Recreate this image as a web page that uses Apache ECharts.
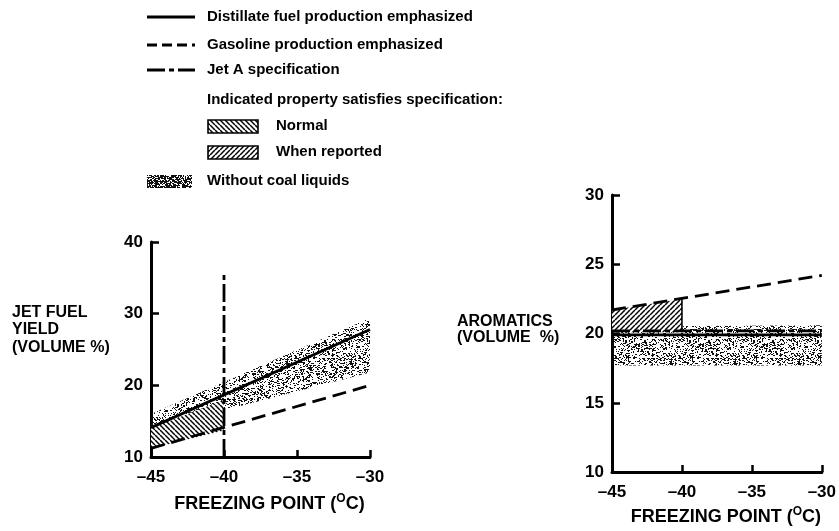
<!DOCTYPE html>
<html>
<head>
<meta charset="utf-8">
<script src="https://cdn.jsdelivr.net/npm/echarts@6/dist/echarts.min.js"></script>
<style>
  html, body { margin: 0; padding: 0; background: #fff; }
  #chart { width: 839px; height: 531px; }
</style>
</head>
<body>
<div id="chart"></div>
<script>
// ---- data ----
var freezeTicks = [-45, -40, -35, -30];

// left panel: jet fuel yield (volume %)
var yieldX = [-45, -30];
var yieldDistillate = [14.1, 27.8];
var yieldGasoline = [11.2, 20.0];
var yieldBandLow = [13.9, 21.8];
var yieldBandHigh = [16.0, 29.4];
var yieldHatchX = [-45, -40];
var yieldHatchLow = [11.2, 13.7];
var yieldHatchHigh = [14.0, 18.0];
var yieldSpecX = [-40, -40];
var yieldSpecY = [10, 35.6];

// right panel: aromatics (volume %)
var aroX = [-45, -30];
var aroDistillate = [19.9, 19.9];
var aroGasoline = [21.7, 24.2];
var aroSpec = [20.2, 20.2];
var aroBandLow = [17.7, 17.7];
var aroBandHigh = [20.5, 20.6];
var aroHatchX = [-45, -40];
var aroHatchLow = [20.1, 20.1];
var aroHatchHigh = [21.7, 22.5];

var FONT = '"Liberation Sans", Arial, Helvetica, sans-serif';
var DASH = [14, 7];
var DASHDOT = [18, 4, 5, 4];

// ---- fill textures ----
function hatchPattern(dir, bg) {
  var s = 5;
  var c = document.createElement('canvas');
  c.width = s; c.height = s;
  var g = c.getContext('2d');
  if (bg) { g.fillStyle = bg; g.fillRect(0, 0, s, s); }
  g.strokeStyle = '#000';
  g.lineWidth = 1.5;
  for (var k = -s; k <= s; k += s) {
    g.beginPath();
    if (dir === 'back') { g.moveTo(k, 0); g.lineTo(k + s, s); }
    else { g.moveTo(k + s, 0); g.lineTo(k, s); }
    g.stroke();
  }
  return { image: c, repeat: 'repeat' };
}

function stipplePattern(density) {
  var s = 64;
  var c = document.createElement('canvas');
  c.width = s; c.height = s;
  var g = c.getContext('2d');
  g.fillStyle = '#111';
  var seed = 12345;
  function next() { seed = (seed * 1103515245 + 12345) % 2147483648; return seed / 2147483648; }
  for (var y = 0; y < s; y++) {
    for (var x = 0; x < s; x++) {
      if (next() < density) g.fillRect(x, y, next() < 0.3 ? 2 : 1, 1);
    }
  }
  return { image: c, repeat: 'repeat' };
}

var stipple = stipplePattern(0.26);
var stippleDark = stipplePattern(0.6);
var hatchNormal = hatchPattern('back', '#fff');
var hatchReported = hatchPattern('fwd', '#fff');

function bandData(xs, lo, hi) {
  return xs.map(function (x, i) { return [x, lo[i], hi[i]]; });
}

function bandRender(xs, lo, hi, fill, edgeRight) {
  return function (params, api) {
    var i = params.dataIndex;
    if (i >= xs.length - 1) return;
    var a = api.coord([xs[i], lo[i]]);
    var b = api.coord([xs[i + 1], lo[i + 1]]);
    var c = api.coord([xs[i + 1], hi[i + 1]]);
    var d = api.coord([xs[i], hi[i]]);
    var children = [{
      type: 'polygon',
      shape: { points: [a, b, c, d] },
      style: { fill: fill }
    }];
    if (edgeRight && i === xs.length - 2) {
      children.push({
        type: 'line',
        shape: { x1: b[0], y1: b[1], x2: c[0], y2: c[1] },
        style: { stroke: '#000', lineWidth: 1.6 }
      });
    }
    return { type: 'group', children: children };
  };
}

function pairs(xs, ys) {
  return xs.map(function (x, i) { return [x, ys[i]]; });
}

function lineSeries(idx, xs, ys, dash, z) {
  return {
    type: 'line',
    xAxisIndex: idx,
    yAxisIndex: idx,
    data: pairs(xs, ys),
    symbol: 'none',
    silent: true,
    z: z || 5,
    lineStyle: { color: '#000', width: 2.8, type: dash || 'solid' }
  };
}

function xAxisOf(grid, gap) {
  return {
    type: 'value',
    gridIndex: grid,
    min: -45, max: -30, interval: 5,
    name: '{t|FREEZING POINT (}{s|O}{t|C)}',
    nameLocation: 'middle',
    nameGap: gap,
    nameTextStyle: {
      padding: [0, 0, 0, 18],
      rich: {
        t: { fontFamily: FONT, fontWeight: 'bold', fontSize: 18, color: '#000' },
        s: { fontFamily: FONT, fontWeight: 'bold', fontSize: 12, color: '#000', padding: [0, 0, 10, 0] }
      }
    },
    axisLine: { lineStyle: { color: '#000', width: 3 } },
    axisTick: { inside: true, length: 7, lineStyle: { color: '#000', width: 2.5 } },
    splitLine: { show: false },
    axisLabel: {
      margin: 12,
      fontFamily: FONT, fontWeight: 'bold', fontSize: 17, color: '#000',
      formatter: function (v) { return String(v).replace('-', '\u2013'); }
    }
  };
}

function yAxisOf(grid, min, max, step) {
  return {
    type: 'value',
    gridIndex: grid,
    min: min, max: max, interval: step,
    axisLine: { show: true, lineStyle: { color: '#000', width: 3 } },
    axisTick: { show: true, inside: true, length: 8, lineStyle: { color: '#000', width: 2.5 } },
    splitLine: { show: false },
    axisLabel: { margin: 8, fontFamily: FONT, fontWeight: 'bold', fontSize: 17, color: '#000' }
  };
}

// ---- legend drawn as graphics ----
function legendText(x, y, txt) {
  return {
    type: 'text', x: x, y: y,
    style: { text: txt, fill: '#000', font: 'bold 15px ' + FONT, verticalAlign: 'middle' }
  };
}
function legendLine(y, dash) {
  return {
    type: 'line',
    shape: { x1: 147, y1: y, x2: 195, y2: y },
    style: { stroke: '#000', lineWidth: 2.8, lineDash: dash || null }
  };
}
function legendBox(x, y, w, fill, border) {
  return {
    type: 'rect',
    shape: { x: x, y: y, width: w, height: 13 },
    style: { fill: fill, stroke: border ? '#000' : null, lineWidth: 1.6 }
  };
}

var legendGraphics = [
  legendLine(17), legendText(207, 17, 'Distillate fuel production emphasized'),
  legendLine(45, [10, 5]), legendText(207, 45, 'Gasoline production emphasized'),
  legendLine(70, DASHDOT), legendText(207, 70, 'Jet A specification'),
  legendText(207, 100, 'Indicated property satisfies specification:'),
  legendBox(208, 120, 50, hatchNormal, true), legendText(276, 126, 'Normal'),
  legendBox(208, 146, 50, hatchReported, true), legendText(276, 152, 'When reported'),
  legendBox(147, 175, 45, stippleDark, false), legendText(207, 181, 'Without coal liquids'),
  {
    type: 'text', x: 12, y: 330,
    style: { text: 'JET FUEL\nYIELD\n(VOLUME %)', fill: '#000', font: 'bold 16px ' + FONT, lineHeight: 17.5, verticalAlign: 'middle' }
  },
  {
    type: 'text', x: 457, y: 330,
    style: { text: 'AROMATICS\n(VOLUME  %)', fill: '#000', font: 'bold 16px ' + FONT, lineHeight: 16, verticalAlign: 'middle' }
  }
];

var chart = echarts.init(document.getElementById('chart'), null, { renderer: 'canvas' });

chart.setOption({
  animation: false,
  backgroundColor: '#fff',
  grid: [
    { left: 151, top: 242, width: 219, height: 215 },
    { left: 612, top: 195, width: 216, height: 281 }
  ],
  xAxis: [xAxisOf(0, 36), xAxisOf(1, 32)],
  yAxis: [yAxisOf(0, 10, 40, 10), yAxisOf(1, 10, 30, 5)],
  graphic: legendGraphics,
  series: [
    // left panel
    {
      type: 'custom', xAxisIndex: 0, yAxisIndex: 0, silent: true, z: 1,
      data: bandData(yieldX, yieldBandLow, yieldBandHigh),
      encode: { x: 0, y: [1, 2] },
      renderItem: bandRender(yieldX, yieldBandLow, yieldBandHigh, stipple, false)
    },
    {
      type: 'custom', xAxisIndex: 0, yAxisIndex: 0, silent: true, z: 2,
      data: bandData(yieldHatchX, yieldHatchLow, yieldHatchHigh),
      encode: { x: 0, y: [1, 2] },
      renderItem: bandRender(yieldHatchX, yieldHatchLow, yieldHatchHigh, hatchNormal, false)
    },
    lineSeries(0, yieldX, yieldDistillate, 'solid'),
    lineSeries(0, yieldX, yieldGasoline, DASH),
    lineSeries(0, yieldSpecX, yieldSpecY, DASHDOT),
    // right panel
    {
      type: 'custom', xAxisIndex: 1, yAxisIndex: 1, silent: true, z: 1,
      data: bandData(aroX, aroBandLow, aroBandHigh),
      encode: { x: 0, y: [1, 2] },
      renderItem: bandRender(aroX, aroBandLow, aroBandHigh, stipple, false)
    },
    {
      type: 'custom', xAxisIndex: 1, yAxisIndex: 1, silent: true, z: 2,
      data: bandData(aroHatchX, aroHatchLow, aroHatchHigh),
      encode: { x: 0, y: [1, 2] },
      renderItem: bandRender(aroHatchX, aroHatchLow, aroHatchHigh, hatchReported, true)
    },
    lineSeries(1, aroX, aroDistillate, 'solid'),
    lineSeries(1, aroX, aroGasoline, DASH),
    lineSeries(1, aroX, aroSpec, DASHDOT)
  ]
});
</script>
</body>
</html>
